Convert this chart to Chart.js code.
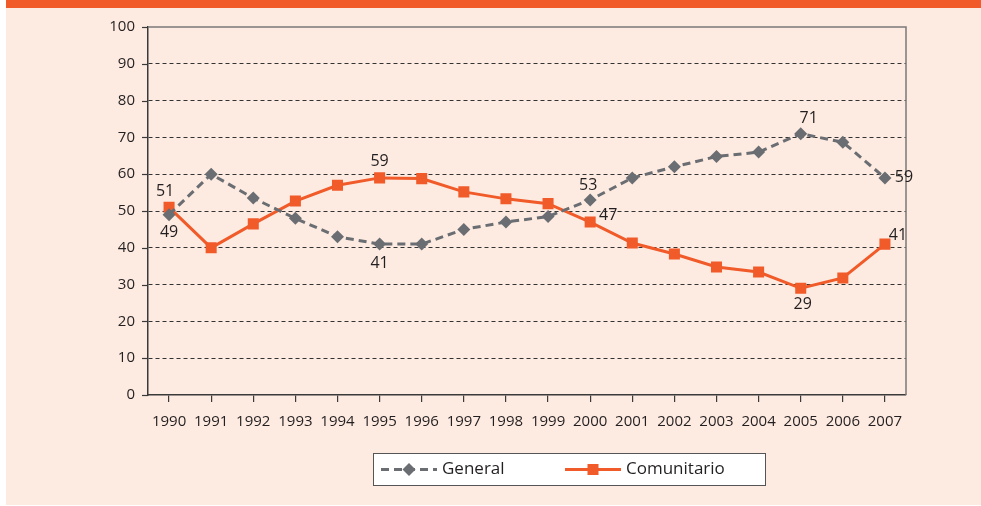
<!DOCTYPE html>
<html>
<head>
<meta charset="utf-8">
<script src="https://cdn.jsdelivr.net/npm/chart.js@4"></script>
<style>
  html, body { margin: 0; padding: 0; background: #ffffff; }
  #wrap { position: relative; width: 981px; height: 506px; }
</style>
</head>
<body>
<div id="wrap"><canvas id="trendChart" width="981" height="506"></canvas></div>
<script>
const years = ['1990', '1991', '1992', '1993', '1994', '1995', '1996', '1997', '1998',
  '1999', '2000', '2001', '2002', '2003', '2004', '2005', '2006', '2007'];
const generalValues = [49, 60, 53.5, 48, 43, 41, 41, 45, 47, 48.5, 53, 59, 62, 64.8, 66, 71, 68.7, 59];
const comunitarioValues = [51, 40, 46.5, 52.7, 57, 59, 58.8, 55.2, 53.3, 52, 47, 41.3, 38.3, 34.8, 33.4, 29, 31.8, 41];
const yTicks = [0, 10, 20, 30, 40, 50, 60, 70, 80, 90, 100];

// which points get a value label, and where it sits relative to the point
const generalLabels = { 0: [0, 18], 5: [0, 19], 10: [-2, -15], 15: [8, -15], 17: [19, 0] };
const comunitarioLabels = { 0: [-4, -16], 5: [0, -16], 10: [18, -7], 15: [2, 16], 17: [13, -9] };

const ORANGE = '#f15a29';
const GREY = '#6a6d72';
const INK = '#231f20';
const FONT = '"Open Sans", "Liberation Sans", sans-serif';

const pagePlugin = {
  id: 'page',
  beforeDraw(chart) {
    const c = chart.ctx;
    c.save();
    c.fillStyle = '#ffffff';
    c.fillRect(0, 0, chart.width, chart.height);
    c.fillStyle = '#fdebe1';
    c.fillRect(6, 0, chart.width - 6, chart.height - 1);
    c.fillStyle = ORANGE;
    c.fillRect(6, 0, chart.width - 6, 8);
    c.restore();
  },
  beforeDatasetsDraw(chart) {
    const c = chart.ctx;
    const a = chart.chartArea;
    const y = chart.scales.y;
    c.save();
    // top and right frame
    c.strokeStyle = '#7a7a7a';
    c.lineWidth = 1.5;
    c.beginPath();
    c.moveTo(a.left, a.top);
    c.lineTo(a.right, a.top);
    c.lineTo(a.right, a.bottom);
    c.stroke();
    // small tick marks on the value axis
    c.strokeStyle = '#3a3a3a';
    c.lineWidth = 1.2;
    yTicks.forEach(v => {
      const py = Math.round(y.getPixelForValue(v)) + 0.5;
      c.beginPath();
      c.moveTo(a.left - 6, py);
      c.lineTo(a.left, py);
      c.stroke();
    });
    c.restore();
  },
  afterDatasetsDraw(chart) {
    const c = chart.ctx;
    c.save();
    c.fillStyle = INK;
    c.font = '16px ' + FONT;
    c.textAlign = 'center';
    c.textBaseline = 'middle';
    [generalLabels, comunitarioLabels].forEach((map, di) => {
      const meta = chart.getDatasetMeta(di);
      const vals = chart.data.datasets[di].data;
      Object.keys(map).forEach(k => {
        const pt = meta.data[k];
        const off = map[k];
        c.fillText(String(Math.round(vals[k])), pt.x + off[0], pt.y + off[1]);
      });
    });
    c.restore();
  },
  afterDraw(chart) {
    // legend box
    const c = chart.ctx;
    const bx = 373.5, by = 453.5, bw = 392, bh = 32;
    const cy = by + bh / 2;
    c.save();
    c.fillStyle = '#ffffff';
    c.fillRect(bx, by, bw, bh);
    c.strokeStyle = '#555555';
    c.lineWidth = 1;
    c.strokeRect(bx, by, bw, bh);

    const ds = chart.data.datasets;
    // General sample
    c.strokeStyle = ds[0].borderColor;
    c.lineWidth = ds[0].borderWidth;
    c.setLineDash(ds[0].borderDash);
    c.beginPath();
    c.moveTo(381, cy);
    c.lineTo(437, cy);
    c.stroke();
    c.setLineDash([]);
    c.fillStyle = ds[0].pointBackgroundColor;
    c.beginPath();
    c.moveTo(409, cy - 6.5);
    c.lineTo(415.5, cy);
    c.lineTo(409, cy + 6.5);
    c.lineTo(402.5, cy);
    c.closePath();
    c.fill();
    // Comunitario sample
    c.strokeStyle = ds[1].borderColor;
    c.lineWidth = ds[1].borderWidth;
    c.beginPath();
    c.moveTo(565, cy);
    c.lineTo(621, cy);
    c.stroke();
    c.fillStyle = ds[1].pointBackgroundColor;
    c.fillRect(593 - 5.5, cy - 5.5, 11, 11);

    c.fillStyle = INK;
    c.font = '17px ' + FONT;
    c.textAlign = 'left';
    c.textBaseline = 'middle';
    c.fillText(ds[0].label, 442, cy);
    c.fillText(ds[1].label, 626, cy);
    c.restore();
  }
};

new Chart(document.getElementById('trendChart'), {
  type: 'line',
  data: {
    labels: years,
    datasets: [{
      label: 'General',
      data: generalValues,
      borderColor: GREY,
      borderWidth: 3,
      borderDash: [8, 5],
      pointStyle: 'rectRot',
      pointRadius: 6.5,
      pointHoverRadius: 6.5,
      pointBackgroundColor: GREY,
      pointBorderWidth: 0,
      tension: 0
    }, {
      label: 'Comunitario',
      data: comunitarioValues,
      borderColor: ORANGE,
      borderWidth: 3,
      pointStyle: 'rect',
      pointRadius: 7.8,
      pointHoverRadius: 7.8,
      pointBackgroundColor: ORANGE,
      pointBorderWidth: 0,
      tension: 0
    }]
  },
  options: {
    responsive: false,
    devicePixelRatio: 1,
    animation: false,
    layout: { padding: { left: 0, top: 27, right: 75, bottom: 0 } },
    plugins: {
      legend: { display: false },
      tooltip: { enabled: false }
    },
    scales: {
      x: {
        offset: true,
        afterFit(scale) { scale.height = 111; },
        grid: {
          display: true,
          drawOnChartArea: false,
          drawTicks: true,
          tickLength: 7,
          color: '#3a3a3a',
          lineWidth: 1.2
        },
        border: { display: true, color: '#3a3a3a', width: 1.5 },
        ticks: {
          color: INK,
          font: { family: FONT, size: 15 },
          padding: 11,
          maxRotation: 0,
          autoSkip: false
        }
      },
      y: {
        min: 0,
        max: 100,
        afterFit(scale) { scale.width = 148; },
        afterBuildTicks(scale) { scale.ticks = yTicks.map(v => ({ value: v })); },
        grid: {
          drawTicks: false,
          color: ctx => (ctx.tick && (ctx.tick.value === 0 || ctx.tick.value === 100)) ? 'rgba(0,0,0,0)' : '#333333',
          lineWidth: 1
        },
        border: { display: true, color: '#3a3a3a', width: 1.5, dash: [4, 3] },
        ticks: {
          color: INK,
          font: { family: FONT, size: 15 },
          padding: 13
        }
      }
    }
  },
  plugins: [pagePlugin]
});
</script>
</body>
</html>
